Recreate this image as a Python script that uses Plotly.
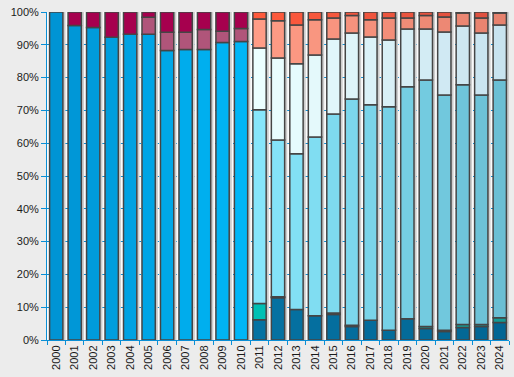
import plotly.graph_objects as go

years = [str(y) for y in range(2000, 2025)]
N = None

# Series used 2000-2010
blue    = [100, 95.9, 95.3, 92.3, 93.2, 93.2, 88.3, 88.6, 88.6, 90.7, 91.0] + [N] * 14
mauve   = [N, N, N, N, N, 5.2, 5.5, 5.2, 6.1, 3.4, 4.0] + [N] * 14
magenta = [N, 4.1, 4.7, 7.7, 6.8, 1.6, 6.2, 6.2, 5.3, 5.9, 5.0] + [N] * 14

# Series used 2011-2024
dark   = [N] * 11 + [6.2, 12.9, 9.3, 7.4, 7.8, 4.1, 6.0, 3.0, 6.5, 3.5, 2.6, 3.8, 4.1, 5.3]
teal   = [N] * 11 + [4.9, 0.3, N, N, 0.4, 0.4, N, N, N, 0.6, 0.4, 0.9, 0.6, 1.5]
cyan   = [N] * 11 + [59.1, 47.8, 47.5, 54.5, 60.7, 69.0, 65.7, 68.1, 70.7, 75.2, 71.7, 73.1, 70.0, 72.5]
pale   = [N] * 11 + [18.8, 25.0, 27.4, 25.0, 22.9, 20.1, 20.7, 20.4, 17.6, 15.5, 19.2, 17.9, 18.9, 16.7]
salmon = [N] * 11 + [8.9, 11.3, 11.8, 10.7, 6.4, 5.3, 5.2, 6.7, 3.4, 4.1, 4.6, 4.0, 4.6, 3.7]
red    = [N] * 11 + [2.1, 2.7, 4.0, 2.4, 1.8, 1.1, 2.4, 1.8, 1.8, 1.1, 1.5, 0.3, 1.8, 0.3]

series = [
    ("Série 1", blue, ("#0094d4", "#00b6f6")),
    ("Série 2", mauve, ("#b0557a", "#b0557a")),
    ("Série 3", magenta, ("#a6004e", "#a6004e")),
    ("Série 4", dark, ("#0572a2", "#036694")),
    ("Série 5", teal, ("#00c0b4", "#139c96")),
    ("Série 6", cyan, ("#86e6fb", "#6bbfd4")),
    ("Série 7", pale, ("#ecffff", "#c8e3ef")),
    ("Série 8", salmon, ("#ff9c86", "#e7826e")),
    ("Série 9", red, ("#ff5a3c", "#dd5040")),
]


def hex2rgb(h):
    h = h.lstrip("#")
    return [int(h[i:i + 2], 16) for i in (0, 2, 4)]


def colors_for(vals, c1, c2):
    idx = [i for i, v in enumerate(vals) if v is not None]
    a, b = hex2rgb(c1), hex2rgb(c2)
    out = ["#000000"] * len(vals)
    if not idx:
        return out
    lo, hi = idx[0], idx[-1]
    for i in range(len(vals)):
        t = 0 if hi == lo else min(max((i - lo) / (hi - lo), 0), 1)
        c = [round(a[k] + (b[k] - a[k]) * t) for k in range(3)]
        out[i] = "rgb(%d,%d,%d)" % tuple(c)
    return out


BW = 0.72
AXIS = "#0a8fd6"
fig = go.Figure()

totals = [sum((s[1][i] or 0) for s in series) for i in range(len(years))]
fig.add_trace(go.Bar(x=years, y=totals, base=[0] * len(years), width=0.2,
                     offset=BW / 2 - 0.06, marker=dict(color="#cdcdcd", line=dict(width=0)),
                     hoverinfo="skip", showlegend=False))

base = [0.0] * len(years)
for name, vals, (c1, c2) in series:
    fig.add_trace(go.Bar(
        x=years, y=vals, base=list(base), name=name, width=BW,
        marker=dict(color=colors_for(vals, c1, c2), line=dict(color="#454545", width=1.5)),
    ))
    base = [b + (v or 0) for b, v in zip(base, vals)]

fig.update_layout(
    width=514, height=377,
    margin=dict(l=47, r=5, t=12, b=37),
    paper_bgcolor="#ececec", plot_bgcolor="#fbfbfb",
    barmode="overlay", showlegend=False,
    font=dict(family="Liberation Sans, Arial, sans-serif", size=11, color="#1a1a1a"),
)
fig.update_yaxes(
    range=[0, 100], dtick=10, ticksuffix="%", showline=True, linecolor=AXIS, linewidth=1,
    ticks="outside", ticklen=5, tickcolor=AXIS, showgrid=True, gridcolor=AXIS,
    griddash="4px,2px", gridwidth=1, zeroline=False, tickfont=dict(size=11), automargin=False,
)
fig.update_xaxes(
    type="category", range=[-0.5, 24.5], tickson="boundaries", ticks="outside", ticklen=4,
    tickcolor=AXIS, tickangle=-90, showline=True, linecolor=AXIS, linewidth=1,
    showgrid=False, tickfont=dict(size=11), automargin=False,
)

fig.write_html(
    "out.html",
    config={"displayModeBar": False},
    post_script="document.body.style.margin='0';document.body.style.background='#ececec';",
)
